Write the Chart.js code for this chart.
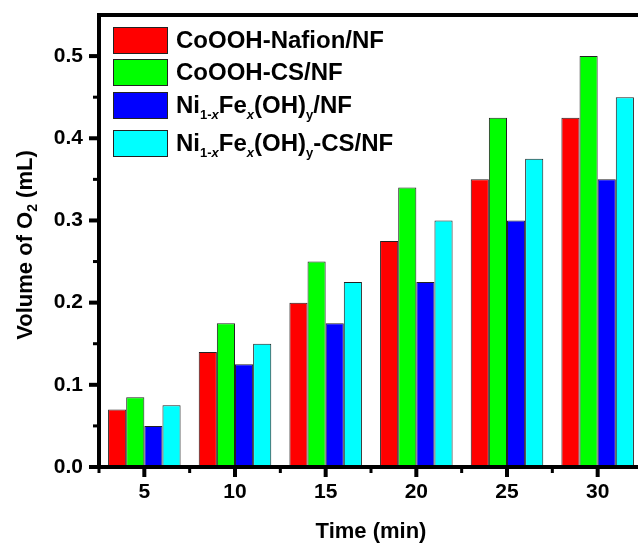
<!DOCTYPE html>
<html>
<head>
<meta charset="utf-8">
<title>Volume of O2 vs time</title>
<script src="https://cdn.jsdelivr.net/npm/chart.js@4/dist/chart.umd.min.js"></script>
<style>
  html, body { margin: 0; padding: 0; background: #fff; overflow: hidden; }
  #wrap { width: 660px; height: 551px; }
</style>
</head>
<body>
<div id="wrap"><canvas id="chart"></canvas></div>
<script>
// time points (min)
const timeLabels = ['5', '10', '15', '20', '25', '30'];

// O2 volume (mL)
const coNafion = [0.07, 0.14, 0.20, 0.275, 0.35, 0.425];
const coCS     = [0.085, 0.175, 0.25, 0.34, 0.425, 0.50];
const niFe     = [0.05, 0.125, 0.175, 0.225, 0.30, 0.35];
const niFeCS   = [0.075, 0.15, 0.225, 0.30, 0.375, 0.45];

// legend labels; _{..} = subscript, *..* = italic
const seriesLabels = [
    'CoOOH-Nafion/NF',
    'CoOOH-CS/NF',
    'Ni_{1-*x*}Fe_{*x*}(OH)_{y}/NF',
    'Ni_{1-*x*}Fe_{*x*}(OH)_{y}-CS/NF'
];
const seriesColors = ['#ff0000', '#00ff00', '#0000ff', '#00ffff'];

const yTickValues = [0, 0.1, 0.2, 0.3, 0.4, 0.5];
const yMinorValues = [0.05, 0.15, 0.25, 0.35, 0.45];
const yTitle = 'Volume of O_{2} (mL)';
const xTitle = 'Time (min)';

const FONT = "'Liberation Sans', Arial, sans-serif";

// split markup into segments
function parseRich(str) {
    const segs = [];
    let sub = false, italic = false, buf = '';
    const push = () => { if (buf) segs.push({ text: buf, sub, italic }); buf = ''; };
    for (let i = 0; i < str.length; i++) {
        const c = str[i];
        if (c === '_' && str[i + 1] === '{') { push(); sub = true; i++; }
        else if (c === '}' && sub) { push(); sub = false; }
        else if (c === '*') { push(); italic = !italic; }
        else buf += c;
    }
    push();
    return segs;
}

function plainText(str) {
    return parseRich(str).map(s => s.text).join('');
}

function segFont(seg, size, subSize) {
    return (seg.italic ? 'italic ' : '') + 'bold ' + (seg.sub ? subSize : size) + 'px ' + FONT;
}

function richWidth(ctx, segs, size, subSize) {
    let w = 0;
    segs.forEach(s => { ctx.font = segFont(s, size, subSize); w += ctx.measureText(s.text).width; });
    return w;
}

function drawRich(ctx, segs, x, y, size, subSize, shift) {
    ctx.textBaseline = 'alphabetic';
    ctx.textAlign = 'left';
    segs.forEach(s => {
        ctx.font = segFont(s, size, subSize);
        ctx.fillText(s.text, x, s.sub ? y + shift : y);
        x += ctx.measureText(s.text).width;
    });
}

// frame, tick marks, legend and y title
const decorPlugin = {
    id: 'decor',
    afterDraw(chart) {
        const ctx = chart.ctx;
        const area = chart.chartArea;
        const x = chart.scales.x;
        const y = chart.scales.y;
        ctx.save();
        ctx.fillStyle = '#000';

        // frame
        const lw = 4;
        ctx.fillRect(area.left - lw / 2, area.top - lw / 2, lw, area.bottom - area.top + lw);
        ctx.fillRect(area.left - lw / 2, area.bottom - lw / 2, area.right - area.left + lw, lw);
        ctx.fillRect(area.left - lw / 2, area.top - lw / 2, area.right - area.left + lw, lw);
        ctx.fillRect(area.right - lw / 2, area.top - lw / 2, lw, area.bottom - area.top + lw);

        // y ticks
        yTickValues.forEach(v => {
            const py = y.getPixelForValue(v);
            ctx.fillRect(area.left - 10, py - 2, 10, 4);
        });
        yMinorValues.forEach(v => {
            const py = y.getPixelForValue(v);
            ctx.fillRect(area.left - 6, py - 1.5, 6, 3);
        });

        // x ticks: major at category centres, minor between them
        timeLabels.forEach((lab, i) => {
            const px = x.getPixelForValue(i);
            ctx.fillRect(px - 2, area.bottom, 4, 10);
            const edge = x.getPixelForValue(i - 0.5);
            ctx.fillRect(edge - 1.5, area.bottom, 3, 6);
        });
        const lastEdge = x.getPixelForValue(timeLabels.length - 0.5);
        ctx.fillRect(lastEdge - 1.5, area.bottom, 3, 6);

        // legend
        const boxX = area.left + 14;
        const rowTops = [12, 44, 77, 115];
        chart.data.datasets.forEach((ds, i) => {
            const top = area.top + rowTops[i];
            ctx.fillStyle = ds.backgroundColor;
            ctx.fillRect(boxX, top, 55, 27);
            ctx.strokeStyle = '#222';
            ctx.lineWidth = 1;
            ctx.strokeRect(boxX + 0.5, top + 0.5, 54, 26);
            ctx.fillStyle = '#000';
            drawRich(ctx, parseRich(seriesLabels[i]), boxX + 63, top + 21, 24, 13, 6);
        });

        // y title with subscript
        const segs = parseRich(yTitle);
        const w = richWidth(ctx, segs, 22, 14);
        ctx.translate(32, (area.top + area.bottom) / 2 + 4);
        ctx.rotate(-Math.PI / 2);
        drawRich(ctx, segs, -w / 2, 0, 22, 14, 5);
        ctx.restore();
    }
};

const datasets = [coNafion, coCS, niFe, niFeCS].map((vals, i) => ({
    label: plainText(seriesLabels[i]),
    data: vals,
    backgroundColor: seriesColors[i],
    borderColor: '#222',
    borderWidth: 1,
    categoryPercentage: 0.8,
    barPercentage: 1.0
}));

new Chart(document.getElementById('chart'), {
    type: 'bar',
    data: { labels: timeLabels, datasets: datasets },
    options: {
        responsive: true,
        maintainAspectRatio: false,
        devicePixelRatio: 1,
        animation: false,
        layout: { padding: { top: 15, right: 17, left: 0, bottom: 0 } },
        plugins: {
            legend: { display: false },
            tooltip: { enabled: false }
        },
        scales: {
            x: {
                grid: { display: false, drawTicks: false },
                border: { display: false },
                ticks: {
                    color: '#000',
                    padding: 13,
                    font: { family: FONT, size: 21, weight: 'bold' }
                },
                title: {
                    display: true,
                    text: xTitle,
                    color: '#000',
                    padding: { top: 0, bottom: 6 },
                    font: { family: FONT, size: 22, weight: 'bold' }
                },
                afterFit(scale) {
                    scale.height = 84;
                    scale.paddingLeft = 0;
                    scale.paddingRight = 0;
                }
            },
            y: {
                min: 0,
                max: 0.55,
                grid: { display: false, drawTicks: false },
                border: { display: false },
                afterBuildTicks(scale) {
                    scale.ticks = yTickValues.map(v => ({ value: v }));
                },
                ticks: {
                    color: '#000',
                    padding: 16,
                    font: { family: FONT, size: 21, weight: 'bold' },
                    callback: v => Number(v).toFixed(1)
                },
                afterFit(scale) {
                    scale.width = 99;
                    scale.paddingTop = 0;
                    scale.paddingBottom = 0;
                }
            }
        }
    },
    plugins: [decorPlugin]
});
</script>
</body>
</html>
